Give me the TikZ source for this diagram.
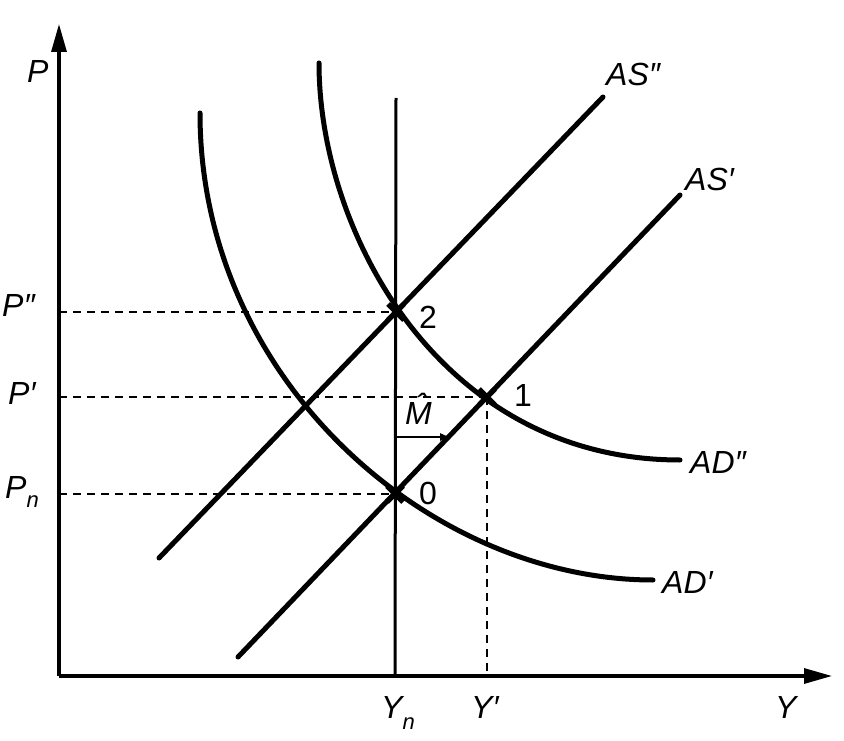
\documentclass[tikz,border=0pt]{standalone}
\usepackage{fontspec}
\setmainfont{Liberation Sans}
\usetikzlibrary{arrows.meta}
\begin{document}
\begin{tikzpicture}[x=1pt,y=-1pt,
 axis/.style={line width=3.2pt, -{Triangle[length=28pt,width=15pt]}},
 curve/.style={line width=5pt, line cap=round, line join=round},
 vline/.style={line width=3pt},
 guide/.style={line width=2pt, dash pattern=on 8pt off 6pt},
 lbl/.style={font=\fontsize{32}{32}\selectfont\itshape, anchor=base west, inner sep=0pt},
 num/.style={font=\fontsize{32}{32}\selectfont, anchor=base west, inner sep=0pt},
 mk/.style={line width=5pt}]
\useasboundingbox (0,0) rectangle (844,741);
% axes
\coordinate (O) at (59,676);
\coordinate (ytop) at (59,24);
\coordinate (xend) at (832,676);
\draw[axis] (O) -- (ytop);
\draw[axis] (O) -- (xend);
% key points
\coordinate (e2) at (396,312);
\coordinate (e1) at (487,397);
\coordinate (e0) at (395,494);
\coordinate (pdd) at (59,312);
\coordinate (pd) at (59,397);
\coordinate (pn) at (59,494);
\coordinate (yd) at (487,676);
\coordinate (yntop) at (396,98);
\coordinate (ynbot) at (395,676);
% vertical long-run line
\draw[vline] (yntop) -- (ynbot);
% dashed guides
\draw[guide] (pdd) -- (e2);
\draw[guide] (pd) -- (e1);
\draw[guide] (pn) -- (e0);
\draw[guide] (e1) -- (yd);
% AS lines
\coordinate (asdd1) at (159,558);
\coordinate (asdd2) at (603,97);
\coordinate (asd1) at (238,657);
\coordinate (asd2) at (680,195);
\draw[curve] (asdd1) -- (asdd2);
\draw[curve] (asd1) -- (asd2);
% AD curves
\coordinate (ad1s) at (200,113);
\coordinate (ad1e) at (653,580);
\coordinate (ad2s) at (319,63);
\coordinate (ad2e) at (680,460);
\draw[curve] (ad1s) .. controls (200,380) and (430,580) .. (ad1e);
\draw[curve] (ad2s) .. controls (319,233) and (441,460) .. (ad2e);
% markers
\foreach \p in {e2,e1,e0}{
  \draw[mk] ([shift={(-8,-8)}]\p) -- ([shift={(8,8)}]\p);
  \draw[mk] ([shift={(-8,8)}]\p) -- ([shift={(8,-8)}]\p);
}
% M-hat arrow
\coordinate (ma) at (395,437);
\coordinate (mb) at (449,437);
\draw[line width=2.4pt, -{Triangle[length=9pt,width=7pt]}] (ma) -- (mb);
% labels
\node[lbl] (lP) at (27,83) {P};
\node[lbl] (lPdd) at (2,316) {P″};
\node[lbl] (lPd) at (8,404) {P′};
\node[lbl] (lPn) at (5,498) {P\raisebox{-0.3em}{\fontsize{22}{22}\selectfont n}};
\node[lbl] (lYn) at (381,718) {Y\raisebox{-0.35em}{\fontsize{22}{22}\selectfont n}};
\node[lbl] (lYd) at (471,718) {Y′};
\node[lbl] (lY) at (775,718) {Y};
\node[lbl] (lASdd) at (606,86) {AS″};
\node[lbl] (lASd) at (685,191) {AS′};
\node[lbl] (lADdd) at (690,473) {AD″};
\node[lbl] (lADd) at (662,593) {AD′};
\node[num] (l2) at (419,328) {2};
\node[num] (l1) at (514,406) {1};
\node[num] (l0) at (419,504) {0};
\node[lbl] (lM) at (405,424) {\makebox[0pt][l]{\raisebox{0.25em}{\hspace{0.33em}ˆ}}M};
\end{tikzpicture}
\end{document}
